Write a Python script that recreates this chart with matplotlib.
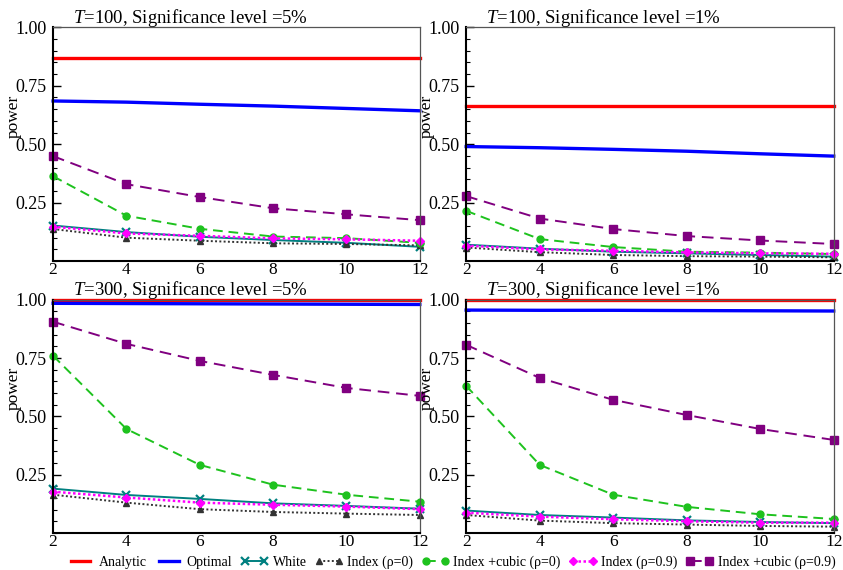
import matplotlib
matplotlib.use("Agg")
import matplotlib.pyplot as plt
from matplotlib.ticker import MultipleLocator

plt.rcParams["font.family"] = ["Liberation Serif", "DejaVu Serif"]
plt.rcParams["mathtext.fontset"] = "custom"
plt.rcParams["mathtext.rm"] = "Liberation Serif"
plt.rcParams["mathtext.it"] = "Liberation Serif:italic"

# 滞后阶数
lags = [2, 4, 6, 8, 10, 12]

titles = ["$T$=100, Significance level =5%", "$T$=100, Significance level =1%",
          "$T$=300, Significance level =5%", "$T$=300, Significance level =1%"]

# T=100, 5%
p1_analytic = [0.867] * 6
p1_optimal = [0.685, 0.680, 0.671, 0.663, 0.653, 0.643]
p1_white = [0.152, 0.124, 0.104, 0.090, 0.078, 0.061]
p1_index0 = [0.137, 0.100, 0.087, 0.076, 0.073, 0.067]
p1_cubic0 = [0.363, 0.194, 0.138, 0.105, 0.098, 0.078]
p1_index9 = [0.147, 0.118, 0.108, 0.097, 0.093, 0.087]
p1_cubic9 = [0.449, 0.329, 0.274, 0.226, 0.200, 0.175]

# T=100, 1%
p2_analytic = [0.665] * 6
p2_optimal = [0.490, 0.485, 0.478, 0.470, 0.459, 0.449]
p2_white = [0.070, 0.053, 0.040, 0.033, 0.026, 0.019]
p2_index0 = [0.058, 0.038, 0.026, 0.021, 0.019, 0.016]
p2_cubic0 = [0.215, 0.094, 0.060, 0.040, 0.036, 0.030]
p2_index9 = [0.066, 0.050, 0.044, 0.037, 0.033, 0.031]
p2_cubic9 = [0.278, 0.182, 0.137, 0.107, 0.088, 0.073]

# T=300, 5%
p3_analytic = [0.999] * 6
p3_optimal = [0.985, 0.984, 0.983, 0.982, 0.981, 0.980]
p3_white = [0.190, 0.163, 0.146, 0.127, 0.116, 0.104]
p3_index0 = [0.164, 0.130, 0.102, 0.090, 0.083, 0.077]
p3_cubic0 = [0.760, 0.446, 0.292, 0.207, 0.164, 0.134]
p3_index9 = [0.177, 0.152, 0.130, 0.121, 0.113, 0.102]
p3_cubic9 = [0.906, 0.811, 0.738, 0.678, 0.622, 0.588]

# T=300, 1%
p4_analytic = [0.999] * 6
p4_optimal = [0.956, 0.955, 0.955, 0.954, 0.953, 0.952]
p4_white = [0.096, 0.077, 0.066, 0.054, 0.047, 0.042]
p4_index0 = [0.077, 0.053, 0.042, 0.036, 0.030, 0.027]
p4_cubic0 = [0.631, 0.292, 0.164, 0.112, 0.080, 0.060]
p4_index9 = [0.087, 0.070, 0.059, 0.050, 0.044, 0.044]
p4_cubic9 = [0.807, 0.665, 0.571, 0.506, 0.446, 0.399]

panels = [
    (p1_analytic, p1_optimal, p1_white, p1_index0, p1_cubic0, p1_index9, p1_cubic9),
    (p2_analytic, p2_optimal, p2_white, p2_index0, p2_cubic0, p2_index9, p2_cubic9),
    (p3_analytic, p3_optimal, p3_white, p3_index0, p3_cubic0, p3_index9, p3_cubic9),
    (p4_analytic, p4_optimal, p4_white, p4_index0, p4_cubic0, p4_index9, p4_cubic9),
]

labels = ["Analytic", "Optimal", "White", "Index (\u03c1=0)", "Index +cubic (\u03c1=0)",
          "Index (\u03c1=0.9)", "Index +cubic (\u03c1=0.9)"]
styles = [
    dict(color="#ff0000", lw=2.4, ls="-"),
    dict(color="#0000ff", lw=2.4, ls="-"),
    dict(color="#008080", lw=1.4, ls="-", marker="x", ms=6, mew=1.6),
    dict(color="#333333", lw=1.4, ls=(0, (1, 1.2)), marker="^", ms=4.5),
    dict(color="#1ec21e", lw=1.4, ls=(0, (5, 3)), marker="o", ms=5),
    dict(color="#ff00ff", lw=1.8, ls=(0, (1, 1)), marker="D", ms=4),
    dict(color="#800080", lw=1.4, ls=(0, (6, 3.5)), marker="s", ms=6),
]

fig = plt.figure(figsize=(8.43, 5.70), dpi=100)
boxes = [
    (0.063, 0.542, 0.435, 0.410),
    (0.553, 0.542, 0.436, 0.410),
    (0.063, 0.065, 0.435, 0.409),
    (0.553, 0.065, 0.436, 0.409),
]

handles = []
for i, (box, series) in enumerate(zip(boxes, panels)):
    ax = fig.add_axes(box)
    for vals, st, lab in zip(series, styles, labels):
        ln, = ax.plot(lags, vals, label=lab, clip_on=False, **st)
        if i == 0:
            handles.append(ln)
    ax.set_xlim(2, 12)
    ax.set_ylim(0, 1)
    ax.set_xticks(lags)
    ax.set_yticks([0.25, 0.5, 0.75, 1.0])
    ax.set_yticklabels(["0.25", "0.50", "0.75", "1.00"])
    ax.yaxis.set_minor_locator(MultipleLocator(0.05))
    ax.tick_params(axis="y", which="major", direction="in", length=6, width=1,
                   labelsize=13, pad=5)
    ax.tick_params(axis="y", which="minor", direction="in", length=3, width=0.8)
    ax.tick_params(axis="x", length=0, labelsize=12.5, pad=1)
    for side in ("left", "bottom"):
        ax.spines[side].set_linewidth(1.5)
        ax.spines[side].set_color("black")
    for side in ("top", "right"):
        ax.spines[side].set_linewidth(0.9)
        ax.spines[side].set_color("#555555")
    ax.set_ylabel("power", fontsize=12.5)
    ax.yaxis.set_label_coords(-0.085, 0.62)
    ax.text(0.055, 0.995, titles[i], transform=ax.transAxes, fontsize=13.5,
            ha="left", va="bottom")

fig.legend(handles, labels, loc="center", bbox_to_anchor=(0.535, 0.014), ncol=7,
           frameon=False, fontsize=10, handlelength=2.0, handletextpad=0.3,
           columnspacing=0.6, numpoints=2, borderpad=0)

fig.savefig("out.png", dpi=100)
